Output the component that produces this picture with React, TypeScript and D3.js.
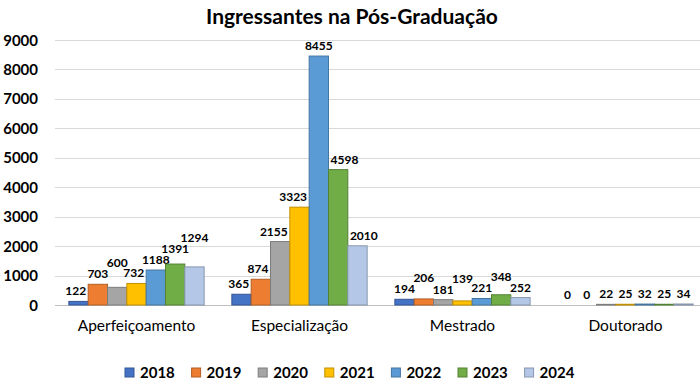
import React, { useEffect, useRef } from "react";
import * as d3 from "d3";

const categories = ["Aperfeiçoamento", "Especialização", "Mestrado", "Doutorado"];
const years = ["2018", "2019", "2020", "2021", "2022", "2023", "2024"];
// values[yearIndex][categoryIndex]
const values = [
  [122, 365, 194, 0],
  [703, 874, 206, 0],
  [600, 2155, 181, 22],
  [732, 3323, 139, 25],
  [1188, 8455, 221, 32],
  [1391, 4598, 348, 25],
  [1294, 2010, 252, 34],
];
const yTicks = [0, 1000, 2000, 3000, 4000, 5000, 6000, 7000, 8000, 9000];
const colors = ["#4472C4", "#ED7D31", "#A5A5A5", "#FFC000", "#5B9BD5", "#70AD47", "#B4C7E7"];

const title = "Ingressantes na Pós-Graduação";

export default function App() {
  const svgRef = useRef<SVGSVGElement>(null);

  useEffect(() => {
    const svg = d3.select(svgRef.current);
    const width = 700;
    const height = 387;
    const margin = { top: 40, right: -7, bottom: 82, left: 55 };
    const font = "Lato, 'Noto Sans', sans-serif";

    svg.selectAll("*").remove();

    const x = d3
      .scaleBand()
      .domain(categories)
      .range([margin.left, width - margin.right])
      .paddingInner(0.17)
      .paddingOuter(0.085);

    const xi = d3.scaleBand().domain(years).range([0, x.bandwidth()]);

    const y = d3
      .scaleLinear()
      .domain([0, 9000])
      .range([height - margin.bottom, margin.top]);

    // title
    svg
      .append("text")
      .attr("x", 352)
      .attr("y", 24)
      .attr("text-anchor", "middle")
      .attr("font-family", font)
      .attr("font-weight", "bold")
      .attr("font-size", 21)
      .attr("fill", "#000")
      .text(title);

    // gridlines
    svg
      .append("g")
      .selectAll("line")
      .data(yTicks)
      .enter()
      .append("line")
      .attr("x1", margin.left)
      .attr("x2", width)
      .attr("y1", (d) => Math.round(y(d)) + 0.5)
      .attr("y2", (d) => Math.round(y(d)) + 0.5)
      .attr("stroke", (d) => (d === 0 ? "#bfbfbf" : "#d9d9d9"))
      .attr("stroke-width", 1);

    // y labels
    svg
      .append("g")
      .selectAll("text")
      .data(yTicks)
      .enter()
      .append("text")
      .attr("x", 38)
      .attr("y", (d) => y(d) + 5.5)
      .attr("text-anchor", "end")
      .attr("font-family", font)
      .attr("font-weight", "bold")
      .attr("font-size", 15)
      .attr("fill", "#000")
      .text((d) => d);

    // bars
    const groups = svg
      .append("g")
      .selectAll("g")
      .data(categories)
      .enter()
      .append("g")
      .attr("transform", (c) => `translate(${x(c)},0)`);

    groups.each(function (c, ci) {
      const g = d3.select(this);
      const bw = xi.bandwidth();
      const tops = years.map((yr, yi) => y(values[yi][ci]));
      const placed: { cx: number; y: number; w: number }[] = [];
      years.forEach((yr, yi) => {
        const v = values[yi][ci];
        const bx = xi(yr)!;
        if (v > 0) {
          g.append("rect")
            .attr("x", bx)
            .attr("y", y(v))
            .attr("width", bw)
            .attr("height", y(0) - y(v))
            .attr("fill", colors[yi])
            .attr("stroke", d3.color(colors[yi])!.darker(0.8).formatHex())
            .attr("stroke-width", 1);
        }
        // label placement: step aside from taller neighbour bars, then up over other labels
        const label = String(v);
        const w = label.length * 7;
        let cx = bx + bw / 2;
        let ly = y(v) - 6;
        if (yi < years.length - 1 && tops[yi + 1] < ly) {
          const limit = bx + bw - 2;
          if (cx + w / 2 > limit) cx = limit - w / 2;
        }
        if (yi > 0 && tops[yi - 1] < ly) {
          const limit = bx + 2;
          if (cx - w / 2 < limit) cx = limit + w / 2;
        }
        let moved = true;
        while (moved) {
          moved = false;
          for (const p of placed) {
            const hOverlap = Math.abs(p.cx - cx) < (p.w + w) / 2;
            const vOverlap = Math.abs(p.y - ly) < 9.5;
            if (hOverlap && vOverlap) {
              ly = p.y - 11;
              moved = true;
            }
          }
        }
        placed.push({ cx, y: ly, w });
        g.append("text")
          .attr("x", cx)
          .attr("y", ly)
          .attr("text-anchor", "middle")
          .attr("font-family", font)
          .attr("font-weight", "bold")
          .attr("font-size", 12)
          .attr("fill", "#000")
          .text(label);
      });
    });

    // category labels
    svg
      .append("g")
      .selectAll("text")
      .data(categories)
      .enter()
      .append("text")
      .attr("x", (c) => x(c)! + x.bandwidth() / 2)
      .attr("y", 331)
      .attr("text-anchor", "middle")
      .attr("font-family", font)
      .attr("font-size", 15.5)
      .attr("fill", "#000")
      .text((c) => c);

    // legend
    const legend = svg
      .append("g")
      .selectAll("g")
      .data(years)
      .enter()
      .append("g")
      .attr("transform", (d, i) => `translate(${125 + i * 66.6},368)`);

    legend
      .append("rect")
      .attr("width", 9)
      .attr("height", 9)
      .attr("fill", (d, i) => colors[i])
      .attr("stroke", (d, i) => d3.color(colors[i])!.darker(0.8).formatHex());

    legend
      .append("text")
      .attr("x", 15)
      .attr("y", 10)
      .attr("font-family", font)
      .attr("font-weight", "bold")
      .attr("font-size", 15)
      .attr("fill", "#000")
      .text((d) => d);
  }, []);

  return (
    <>
      <style>{`body{margin:0}`}</style>
      <svg ref={svgRef} width="700" height="387" style={{ display: "block", background: "#fff" }} />
    </>
  );
}
